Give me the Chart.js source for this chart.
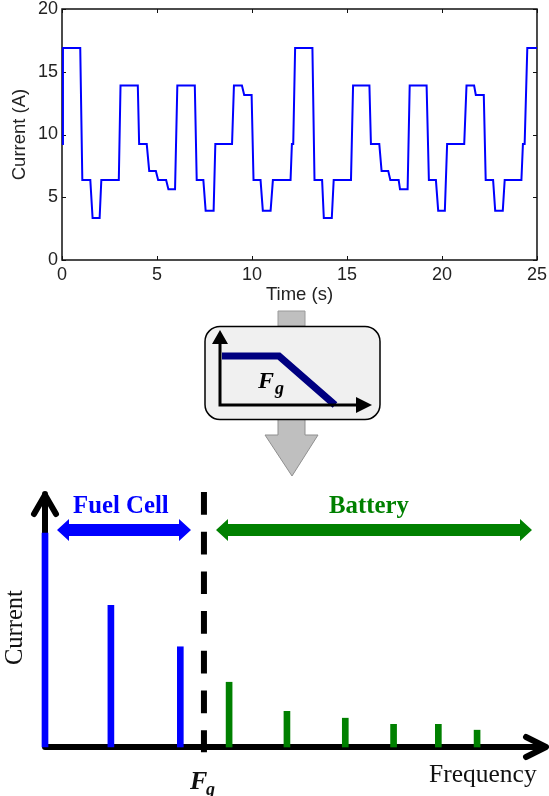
<!DOCTYPE html>
<html><head><meta charset="utf-8">
<style>
html,body{margin:0;padding:0;background:#fff;width:549px;height:796px;overflow:hidden}
canvas,svg{position:absolute;left:0;display:block}
#wrapTop{position:absolute;left:0;top:-6px;width:551px;height:316px}
#wrapBot{position:absolute;left:0;top:480px;width:549px;height:316px}
svg{top:300px}
</style>
<script src="https://cdn.jsdelivr.net/npm/chart.js@4/dist/chart.umd.min.js"></script>
</head><body>
<div id="wrapTop"><canvas id="top" width="551" height="316"></canvas></div>
<svg width="549" height="185" viewBox="0 300 549 185" xmlns="http://www.w3.org/2000/svg">
  <path d="M278 311H305V326H278Z" fill="#bfbfbf" stroke="#9a9a9a" stroke-width="1"/>
  <path d="M278 419H305V435H318L292 476L265 435H278Z" fill="#bfbfbf" stroke="#8f8f8f" stroke-width="1"/>
  <rect x="205" y="326.5" width="175" height="93" rx="15" ry="15" fill="#f0f0f0" stroke="#000" stroke-width="1.5"/>
  <path d="M222 356H279L335 405" fill="none" stroke="#000080" stroke-width="7"/>
  <path d="M220 343V405H357" fill="none" stroke="#000" stroke-width="3"/>
  <path d="M220 330L228 344H212Z M372 405L356 397V413Z" fill="#000"/>
  <text x="258" y="388" font-family="Liberation Serif" font-weight="bold" font-style="italic" font-size="24">F</text>
  <text x="275" y="394" font-family="Liberation Serif" font-weight="bold" font-style="italic" font-size="18">g</text>
</svg>
<div id="wrapBot"><canvas id="bot" width="549" height="316"></canvas></div>
<script>
// Top panel: current profile
const timeS = [0,0.05,0.96,1.07,1.49,1.61,1.98,2.07,2.99,3.08,3.99,4.06,4.46,4.59,4.94,5.06,5.48,5.6,5.95,6.07,6.99,7.09,7.44,7.56,7.98,8.07,8.95,9.05,9.47,9.59,9.98,10.08,10.45,10.57,10.98,11.1,12.03,12.1,12.17,12.27,13.18,13.29,13.69,13.78,14.2,14.3,15.21,15.32,16.18,16.26,16.7,16.82,17.17,17.28,17.72,17.79,18.19,18.3,19.19,19.31,19.68,19.8,20.15,20.27,21.17,21.29,21.69,21.78,22.2,22.3,22.69,22.8,23.2,23.3,24.18,24.26,24.35,24.49,25];
const currentA = [9.24,16.9,16.9,6.37,6.37,3.35,3.35,6.37,6.37,13.9,13.9,9.24,9.24,7.1,7.1,6.37,6.37,5.63,5.63,13.9,13.9,6.37,6.37,3.93,3.93,9.24,9.24,13.9,13.9,13.15,13.15,6.37,6.37,3.93,3.93,6.37,6.37,9.24,9.24,16.9,16.9,6.37,6.37,3.35,3.35,6.37,6.37,13.9,13.9,9.24,9.24,7.1,7.1,6.37,6.37,5.63,5.63,13.9,13.9,6.37,6.37,3.93,3.93,9.24,9.24,13.9,13.9,13.15,13.15,6.37,6.37,3.93,3.93,6.37,6.37,9.24,9.24,16.9,16.9];
const xTicks = [0,5,10,15,20,25];
const yTicks = [0,5,10,15,20];

// Bottom panel: spectrum (relative units)
const fuelFreq = [0,13.1,26.9];
const fuelAmp = [83.9,55.6,39.3];
const battFreq = [36.6,48.1,59.7,69.3,78.2,85.9];
const battAmp = [25.4,14,11.3,8.9,8.9,6.6];
const cutoffFreq = 31.6;
const cutoffSpan = [100,-2.1];
const pairs = (xs,ys)=>xs.map((x,i)=>({x,y:ys[i]}));

Chart.defaults.animation = false;
Chart.defaults.responsive = false;

const boxPlugin = {
  id:'box',
  beforeDatasetsDraw(c){
    const {ctx,chartArea:a,scales:{x,y}} = c;
    ctx.save();
    ctx.strokeStyle='#111'; ctx.lineWidth=1.5;
    ctx.strokeRect(a.left,a.top,a.right-a.left,a.bottom-a.top);
    ctx.lineWidth=1; ctx.beginPath();
    xTicks.forEach(t=>{const p=Math.round(x.getPixelForValue(t))+.5;
      ctx.moveTo(p,a.bottom);ctx.lineTo(p,a.bottom-4);ctx.moveTo(p,a.top);ctx.lineTo(p,a.top+4);});
    yTicks.forEach(t=>{const p=Math.round(y.getPixelForValue(t))+.5;
      ctx.moveTo(a.left,p);ctx.lineTo(a.left+4,p);ctx.moveTo(a.right,p);ctx.lineTo(a.right-4,p);});
    ctx.stroke(); ctx.restore();
  }
};
const tickFont={family:'Liberation Sans',size:18};
const titleFont={family:'Liberation Sans',size:18.5};
new Chart(document.getElementById('top'),{
  type:'scatter',
  data:{datasets:[{data:pairs(timeS,currentA),showLine:true,borderColor:'#0000ff',borderWidth:2,pointRadius:0,tension:0,borderJoinStyle:'miter',clip:false}]},
  options:{
    layout:{autoPadding:false,padding:{left:0,right:13,top:15,bottom:0}},
    plugins:{legend:{display:false},tooltip:{enabled:false}},
    scales:{
      x:{type:'linear',min:0,max:25,
        afterFit:s=>{s.height=50},
        afterBuildTicks:s=>{s.ticks=xTicks.map(v=>({value:v}))},
        grid:{display:false,drawTicks:false},border:{display:false},
        ticks:{font:tickFont,color:'#222',padding:4,maxRotation:0,autoSkip:false},
        title:{display:true,text:'Time (s)',font:titleFont,color:'#222',padding:{top:0,bottom:4}}},
      y:{type:'linear',min:0,max:20,
        afterFit:s=>{s.width=62},
        afterBuildTicks:s=>{s.ticks=yTicks.map(v=>({value:v}))},
        grid:{display:false,drawTicks:false},border:{display:false},
        ticks:{font:tickFont,color:'#222',padding:4,autoSkip:false},
        title:{display:true,text:'Current (A)',font:titleFont,color:'#222',padding:{top:9,bottom:0}}}
    }
  },
  plugins:[boxPlugin]
});

const GREEN='#008000', BLUE='#0000ff';
function dblArrow(ctx,x0,x1,y,col){
  const h=12,t=6,w=11;
  ctx.fillStyle=col;ctx.beginPath();
  ctx.moveTo(x0,y);ctx.lineTo(x0+h,y-w);ctx.lineTo(x0+h,y-t);ctx.lineTo(x1-h,y-t);ctx.lineTo(x1-h,y-w);
  ctx.lineTo(x1,y);ctx.lineTo(x1-h,y+w);ctx.lineTo(x1-h,y+t);ctx.lineTo(x0+h,y+t);ctx.lineTo(x0+h,y+w);
  ctx.closePath();ctx.fill();
}
const axesPlugin={
  id:'axes',
  beforeDatasetsDraw(c){
    const {ctx,chartArea:a}=c;
    ctx.save();ctx.strokeStyle='#000';ctx.lineWidth=6;ctx.lineCap='round';ctx.lineJoin='round';
    ctx.beginPath();
    ctx.moveTo(a.left,a.bottom);ctx.lineTo(a.left,14);
    ctx.moveTo(34,34);ctx.lineTo(a.left,15);ctx.lineTo(56,34);
    ctx.moveTo(a.left,a.bottom);ctx.lineTo(544,a.bottom);
    ctx.moveTo(526,257);ctx.lineTo(546,a.bottom);ctx.lineTo(526,277);
    ctx.stroke();ctx.restore();
  },
  afterDraw(c){
    const {ctx}=c;
    ctx.save();
    dblArrow(ctx,57,191,50,BLUE);
    dblArrow(ctx,216,532,50,GREEN);
    ctx.textBaseline='alphabetic';
    ctx.font='bold 24.8px "Liberation Serif"';
    ctx.fillStyle=BLUE;ctx.fillText('Fuel Cell',73,33);
    ctx.fillStyle=GREEN;ctx.fillText('Battery',329,33);
    ctx.fillStyle='#111';ctx.font='25.5px "Liberation Serif"';
    ctx.fillText('Frequency',429,302);
    ctx.font='24.5px "Liberation Serif"';
    ctx.save();ctx.translate(22,185);ctx.rotate(-Math.PI/2);ctx.fillText('Current',0,0);ctx.restore();
    ctx.font='italic bold 26px "Liberation Serif"';ctx.fillText('F',190,309);
    ctx.font='italic bold 18px "Liberation Serif"';ctx.fillText('g',206,315);
    ctx.restore();
  }
};
new Chart(document.getElementById('bot'),{
  type:'bar',
  data:{datasets:[
    {label:'Fuel Cell',data:pairs(fuelFreq,fuelAmp),backgroundColor:BLUE,barThickness:6,clip:false,grouped:false,order:2},
    {label:'Battery',data:pairs(battFreq,battAmp),backgroundColor:GREEN,barThickness:6,clip:false,grouped:false,order:2},
    {type:'line',label:'Fg',data:cutoffSpan.map(y=>({x:cutoffFreq,y})),borderColor:'#000',borderWidth:6,borderDash:[22.7,17],pointRadius:0,clip:false,order:1}
  ]},
  options:{
    layout:{autoPadding:false,padding:{left:45,right:1,top:12,bottom:49}},
    plugins:{legend:{display:false},tooltip:{enabled:false}},
    scales:{
      x:{type:'linear',min:0,max:100,display:false,offset:false},
      y:{type:'linear',min:0,max:100,display:false}
    }
  },
  plugins:[axesPlugin]
});
</script>
</body></html>
